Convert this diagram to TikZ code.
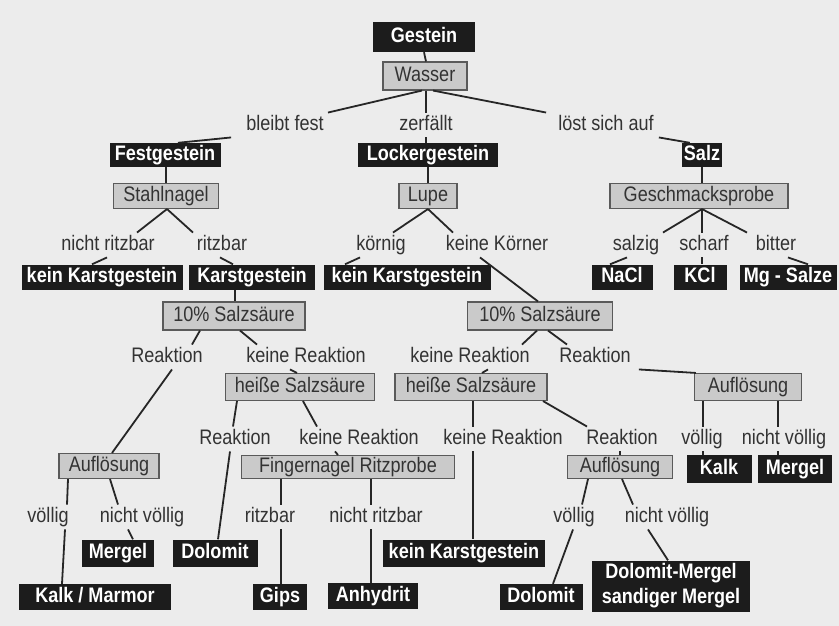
\documentclass[tikz,border=0pt]{standalone}
\usepackage{fontspec}
\setmainfont{Liberation Sans}[FakeStretch=0.86]
\definecolor{paper}{HTML}{ECECEC}
\definecolor{rockblack}{HTML}{1C1C1C}
\definecolor{testgray}{HTML}{CACACA}
\definecolor{testedge}{HTML}{5A5A5A}
\definecolor{inkgray}{HTML}{333333}
\definecolor{linkgray}{HTML}{262626}
\tikzset{
  txt/.style={font=\fontsize{21}{25}\selectfont},
  oneline/.style={text height=15pt, text depth=4.5pt},
  rock/.style={txt, fill=rockblack, text=white, font=\fontsize{21}{25}\selectfont\bfseries, inner sep=0pt},
  test/.style={txt, fill=testgray, draw=testedge, line width=1.1pt, text=inkgray, inner sep=0pt, oneline},
  answer/.style={txt, text=inkgray, inner xsep=0pt, inner ysep=2.5pt, oneline, yshift=-2pt},
  link/.style={draw=linkgray, line width=1.8pt},
}
% black result box: name, x, y, width, height, text
\newcommand{\rockbox}[6]{%
  \node[rock, oneline, minimum width=#4pt, minimum height=#5pt] (#1) at (#2,#3) {#6};
}
% gray test box: name, x, y, width, height, text
\newcommand{\testbox}[6]{%
  \node[test, minimum width=#4pt, minimum height=#5pt] (#1) at (#2,#3) {#6};
}
% answer text: name, x, y, text
\newcommand{\answer}[4]{%
  \node[answer] (#1) at (#2,#3) {#4};
}
% line from the bottom of one node to the top of the next
\newcommand{\link}[4]{%
  \draw[link] ([xshift=#2pt]#1.south) -- ([xshift=#4pt]#3.north);
}

\begin{document}
\begin{tikzpicture}[x=1pt, y=-1pt]
  \fill[paper] (0,0) rectangle (839,626);

  % Top
  \rockbox{gestein}{424}{37}{102}{30}{Gestein}
  \testbox{wasser}{425}{76}{84}{28}{Wasser}
  \answer{bleibt}{285}{123}{bleibt fest}
  \answer{zerfaellt}{426}{123}{zerfällt}
  \answer{loest}{606}{123}{löst sich auf}

  % Row 1
  \rockbox{festgestein}{165}{155}{111}{24}{Festgestein}
  \rockbox{lockergestein}{428}{155}{140}{24}{Lockergestein}
  \rockbox{salz}{702}{155}{40}{24}{Salz}
  \testbox{stahlnagel}{166}{196}{105}{25}{Stahlnagel}
  \testbox{lupe}{428}{196}{58}{25}{Lupe}
  \testbox{geschmack}{699}{196}{178}{25}{Geschmacksprobe}
  \answer{nritz1}{108}{243}{nicht ritzbar}
  \answer{ritz1}{222}{243}{ritzbar}
  \answer{koernig}{381}{243}{körnig}
  \answer{keinekoerner}{497}{243}{keine Körner}
  \answer{salzig}{636}{243}{salzig}
  \answer{scharf}{704}{243}{scharf}
  \answer{bitter}{776}{243}{bitter}

  % Row 2
  \rockbox{keinks1}{102}{277}{161}{25}{kein Karstgestein}
  \rockbox{karst}{252}{277}{126}{25}{Karstgestein}
  \rockbox{keinks2}{407}{277}{167}{25}{kein Karstgestein}
  \rockbox{nacl}{622}{277}{61}{25}{NaCl}
  \rockbox{kcl}{700}{277}{53}{25}{KCl}
  \rockbox{mg}{788}{277}{97}{25}{Mg - Salze}
  \testbox{salzsaeure1}{234}{316}{142}{28}{10\% Salzsäure}
  \testbox{salzsaeure2}{540}{316}{145}{28}{10\% Salzsäure}
  \answer{reak1}{167}{355}{Reaktion}
  \answer{nreak1}{306}{355}{keine Reaktion}
  \answer{nreak2}{470}{355}{keine Reaktion}
  \answer{reak2}{595}{355}{Reaktion}

  % Row 3
  \testbox{heiss1}{300}{387}{149}{27}{heiße Salzsäure}
  \testbox{heiss2}{471}{387}{152}{27}{heiße Salzsäure}
  \testbox{aufl3}{748}{387}{107}{27}{Auflösung}
  \answer{reak3}{235}{437}{Reaktion}
  \answer{nreak3}{359}{437}{keine Reaktion}
  \answer{nreak4}{503}{437}{keine Reaktion}
  \answer{reak4}{622}{437}{Reaktion}
  \answer{voellig3}{702}{437}{völlig}
  \answer{nvoellig3}{784}{437}{nicht völlig}
  \testbox{aufl1}{109}{466}{100}{25}{Auflösung}
  \testbox{finger}{348}{467}{213}{23}{Fingernagel Ritzprobe}
  \testbox{aufl2}{620}{467}{105}{23}{Auflösung}
  \rockbox{kalk}{719}{469}{65}{28}{Kalk}
  \rockbox{mergel2}{795}{469}{74}{28}{Mergel}

  % Row 4
  \answer{voellig1}{48}{515}{völlig}
  \answer{nvoellig1}{142}{515}{nicht völlig}
  \answer{ritz2}{270}{515}{ritzbar}
  \answer{nritz2}{376}{515}{nicht ritzbar}
  \answer{voellig2}{574}{515}{völlig}
  \answer{nvoellig2}{667}{515}{nicht völlig}
  \rockbox{mergel1}{118}{553}{72}{27}{Mergel}
  \rockbox{dolomit1}{215}{553}{85}{27}{Dolomit}
  \rockbox{keinks3}{464}{553}{162}{27}{kein Karstgestein}
  \rockbox{kalkmarmor}{95}{597}{152}{26}{Kalk / Marmor}
  \rockbox{gips}{280}{597}{54}{26}{Gips}
  \rockbox{anhydrit}{373}{596}{90}{26}{Anhydrit}
  \rockbox{dolomit2}{541}{597}{83}{26}{Dolomit}
  \node[rock, align=center, minimum width=158pt, minimum height=51pt] (dolmergel) at (671,586)
    {Dolomit-Mergel\\sandiger Mergel};

  % Connectors
  \link{gestein}{0}{wasser}{1}
  \draw[link] ([xshift=-3pt]wasser.south) -- ([xshift=43pt]bleibt.north);
  \link{wasser}{1}{zerfaellt}{0}
  \draw[link] ([xshift=8pt]wasser.south) -- ([xshift=-12pt]loest.north west);
  \draw[link] ([xshift=-15pt]bleibt.south west) -- ([xshift=13pt]festgestein.north);
  \link{zerfaellt}{0}{lockergestein}{-2}
  \draw[link] ([xshift=5pt]loest.south east) -- ([xshift=8pt]salz.north west);
  \link{festgestein}{1}{stahlnagel}{0}
  \link{lockergestein}{0}{lupe}{0}
  \link{salz}{0}{geschmack}{3}
  \link{stahlnagel}{1}{nritz1}{29}
  \link{stahlnagel}{1}{ritz1}{-29}
  \link{nritz1}{-1}{keinks1}{-10}
  \link{ritz1}{-2}{karst}{-19}
  \link{lupe}{0}{koernig}{12}
  \link{lupe}{0}{keinekoerner}{-44}
  \link{koernig}{-21}{keinks2}{-62}
  \link{keinekoerner}{-17}{salzsaeure2}{-2}
  \link{geschmack}{3}{salzig}{27}
  \link{geschmack}{3}{scharf}{-2}
  \link{geschmack}{3}{bitter}{-29}
  \link{salzig}{-9}{nacl}{-12}
  \link{scharf}{-2}{kcl}{2}
  \link{bitter}{12}{mg}{20}
  \link{karst}{-17}{salzsaeure1}{1}
  \link{salzsaeure1}{-34}{reak1}{25}
  \link{salzsaeure1}{6}{nreak1}{-49}
  \link{nreak1}{-16}{heiss1}{-3}
  \link{reak1}{5}{aufl1}{3}
  \link{salzsaeure2}{-3}{nreak2}{52}
  \link{salzsaeure2}{8}{reak2}{-28}
  \link{nreak2}{18}{heiss2}{11}
  \draw[link] ([xshift=8pt]reak2.south east) -- ([xshift=2pt]aufl3.north west);
  \link{heiss1}{-63}{reak3}{-2}
  \link{heiss1}{3}{nreak3}{-42}
  \link{reak3}{-5}{dolomit1}{3}
  \link{nreak3}{-24}{finger}{-10}
  \link{aufl1}{-41}{voellig1}{19}
  \link{aufl1}{1}{nvoellig1}{-24}
  \link{voellig1}{17}{kalkmarmor}{-33}
  \link{nvoellig1}{-14}{mergel1}{15}
  \link{finger}{-67}{ritz2}{11}
  \link{ritz2}{11}{gips}{1}
  \link{finger}{23}{nritz2}{-5}
  \link{nritz2}{-5}{anhydrit}{-2}
  \link{heiss2}{2}{nreak4}{-30}
  \link{heiss2}{72}{reak4}{-35}
  \link{nreak4}{-30}{keinks3}{9}
  \link{reak4}{-2}{aufl2}{0}
  \link{aufl2}{-32}{voellig2}{8}
  \link{aufl2}{2}{nvoellig2}{-34}
  \link{voellig2}{-1}{dolomit2}{12}
  \link{nvoellig2}{-19}{dolmergel}{-3}
  \link{aufl3}{-45}{voellig3}{1}
  \link{aufl3}{30}{nvoellig3}{-6}
  \link{voellig3}{1}{kalk}{-16}
  \link{nvoellig3}{-6}{mergel2}{-17}
\end{tikzpicture}
\end{document}
